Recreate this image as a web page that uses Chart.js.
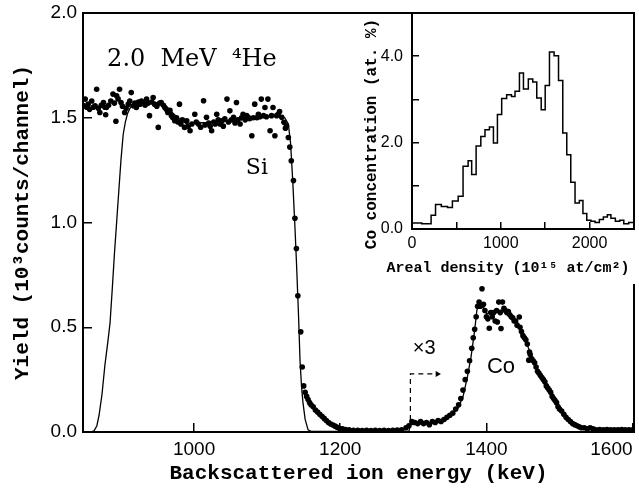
<!DOCTYPE html>
<html>
<head>
<meta charset="utf-8">
<script src="https://cdn.jsdelivr.net/npm/chart.js@4/dist/chart.umd.min.js"></script>
<style>
  html, body { margin: 0; padding: 0; background: #fff; }
  #caixa { position: relative; width: 639px; height: 496px; }
  #principal { position: absolute; left: 0; top: 0; }
  #inset { position: absolute; left: 355px; top: 0; }
</style>
</head>
<body>
<div id="caixa">
  <canvas id="principal" width="639" height="496"></canvas>
  <canvas id="inset" width="284" height="284"></canvas>
</div>
<script>
// Espectro RBS (pontos medidos) - energia em keV, rendimento em 10^3 contagens/canal
const dotEnergy = [
  848, 851, 853, 855, 857, 860, 862, 864.5, 866.7, 869, 871, 873, 876, 878, 879, 880, 883, 886, 889, 891,
  893, 894, 896, 898, 900, 902, 905, 907, 910, 912, 914, 917, 919, 921, 924, 926, 928, 930, 933, 935,
  937, 939, 942, 944, 946, 949, 951, 953, 955, 958, 960, 962, 964, 967, 969, 971, 973.5, 976, 978, 980,
  982, 984, 987, 990, 992, 994.5, 997, 1001, 1003, 1006, 1009, 1013, 1015, 1017, 1020, 1022, 1024, 1027, 1029, 1031,
  1033, 1035.5, 1038, 1040, 1042, 1045, 1047, 1049, 1051, 1054, 1056, 1058, 1060, 1063, 1065, 1067, 1070, 1072, 1074, 1076,
  1079, 1081, 1083, 1086, 1088, 1090, 1092, 1095, 1097, 1099, 1101, 1104, 1106, 1108, 1110.6, 1113, 1115, 1117, 1120, 1123,
  1125, 1126.5, 1129, 1131, 1133, 1136, 1138, 1140, 1142, 1146, 1148, 1150, 1152, 1154, 1156, 1158, 1160, 1163, 1166, 1169,
  1172, 1175, 1178, 1181, 1184, 1187, 1190, 1193, 1196, 1199, 1203, 1207, 1212, 1218, 1224, 1230, 1236, 1242, 1248, 1254,
  1260, 1266, 1272, 1278, 1284, 1290, 1294, 1298, 1302, 1306, 1310, 1314, 1318, 1322, 1326, 1330, 1334, 1338, 1342, 1346,
  1350, 1354, 1358, 1362, 1365, 1368, 1371, 1374, 1377, 1380, 1382, 1384, 1386, 1388, 1390, 1392, 1394, 1396, 1398, 1400,
  1402, 1404, 1406, 1408, 1410, 1412, 1414, 1415, 1417, 1419, 1420, 1422, 1424, 1426, 1428, 1430, 1432, 1434, 1436, 1438,
  1440, 1442, 1445, 1446, 1448, 1450, 1452, 1454, 1456, 1458, 1459, 1460, 1462, 1464, 1466, 1468, 1470, 1472, 1474, 1476,
  1478, 1480, 1482, 1484, 1486, 1488, 1490, 1492, 1494, 1496, 1498, 1500, 1503, 1506, 1509, 1512, 1515, 1518, 1521, 1524,
  1527, 1530, 1534, 1538, 1542, 1546, 1550, 1555, 1560, 1565, 1570, 1575, 1580, 1585, 1590, 1595, 1600
];
const dotYield = [
  1.56, 1.589, 1.55, 1.565, 1.54, 1.58, 1.55, 1.557, 1.636, 1.545, 1.525, 1.56, 1.573, 1.55, 1.514, 1.549, 1.56, 1.58, 1.613, 1.57,
  1.483, 1.605, 1.59, 1.636, 1.573, 1.555, 1.525, 1.545, 1.565, 1.58, 1.62, 1.557, 1.57, 1.549, 1.575, 1.565, 1.58, 1.573, 1.56, 1.589,
  1.57, 1.51, 1.575, 1.597, 1.565, 1.555, 1.454, 1.57, 1.573, 1.56, 1.549, 1.54, 1.525, 1.535, 1.51, 1.5, 1.486, 1.5, 1.48, 1.565,
  1.47, 1.49, 1.454, 1.486, 1.46, 1.438, 1.47, 1.517, 1.48, 1.47, 1.455, 1.581, 1.465, 1.502, 1.475, 1.46, 1.438, 1.48, 1.47, 1.517,
  1.49, 1.47, 1.485, 1.46, 1.495, 1.589, 1.48, 1.533, 1.49, 1.502, 1.475, 1.573, 1.49, 1.47, 1.5, 1.517, 1.49, 1.51, 1.502, 1.495,
  1.414, 1.5, 1.565, 1.5, 1.517, 1.505, 1.589, 1.51, 1.549, 1.505, 1.589, 1.438, 1.51, 1.549, 1.414, 1.51, 1.517, 1.53, 1.502, 1.478,
  1.45, 1.462, 1.406, 1.36, 1.295, 1.2, 1.02, 0.876, 0.65, 0.478, 0.31, 0.22, 0.19, 0.17, 0.155, 0.14, 0.13, 0.12, 0.105, 0.095,
  0.085, 0.075, 0.065, 0.055, 0.045, 0.038, 0.033, 0.028, 0.022, 0.018, 0.015, 0.012, 0.01, 0.008, 0.008, 0.007, 0.008, 0.007, 0.008, 0.007,
  0.008, 0.007, 0.008, 0.009, 0.01, 0.02, 0.03, 0.05, 0.045, 0.04, 0.05, 0.04, 0.045, 0.035, 0.05, 0.045, 0.055, 0.05, 0.06, 0.07,
  0.08, 0.09, 0.11, 0.13, 0.16, 0.2, 0.25, 0.29, 0.34, 0.4, 0.45, 0.49, 0.55, 0.6, 0.62, 0.6, 0.684, 0.61, 0.58, 0.55,
  0.54, 0.495, 0.57, 0.55, 0.57, 0.53, 0.58, 0.525, 0.62, 0.57, 0.494, 0.62, 0.59, 0.58, 0.57, 0.575, 0.56, 0.55, 0.545, 0.53,
  0.53, 0.51, 0.549, 0.5, 0.48, 0.46, 0.45, 0.44, 0.42, 0.343, 0.382, 0.37, 0.35, 0.34, 0.33, 0.31, 0.29, 0.28, 0.27, 0.26,
  0.25, 0.24, 0.22, 0.21, 0.2, 0.19, 0.17, 0.16, 0.15, 0.14, 0.12, 0.11, 0.1, 0.085, 0.07, 0.06, 0.05, 0.04, 0.035, 0.03,
  0.025, 0.02, 0.02, 0.015, 0.02, 0.015, 0.01, 0.012, 0.01, 0.012, 0.01, 0.011, 0.01, 0.012, 0.01, 0.011, 0.01
];

// Curva simulada
const fitEnergy = [
  848, 858, 863, 867, 870, 874, 878, 882, 885, 888, 891, 894, 897, 900, 903, 906, 909, 913, 918, 925,
  940, 958, 967, 978, 990, 1004, 1026, 1050, 1072, 1095, 1117, 1124, 1129, 1132, 1135, 1138, 1140, 1143, 1145, 1147,
  1149, 1152, 1156, 1160, 1294, 1296, 1320, 1336, 1349, 1361, 1368, 1374, 1379, 1384, 1387, 1390, 1395, 1400, 1409, 1420,
  1429, 1438, 1447, 1456, 1465, 1475, 1484, 1495, 1509, 1522, 1536, 1568, 1602
];
const fitYield = [
  0, 0, 0.005, 0.03, 0.08, 0.18, 0.32, 0.43, 0.52, 0.68, 0.85, 1.0, 1.15, 1.3, 1.42, 1.48, 1.52, 1.55, 1.565, 1.57,
  1.57, 1.565, 1.535, 1.5, 1.47, 1.475, 1.478, 1.485, 1.494, 1.502, 1.51, 1.5, 1.47, 1.38, 1.2, 0.98, 0.82, 0.55, 0.34, 0.22,
  0.14, 0.06, 0.01, 0.003, 0.003, 0.035, 0.04, 0.049, 0.073, 0.113, 0.168, 0.263, 0.359, 0.486, 0.581, 0.616, 0.605, 0.565, 0.573, 0.581,
  0.573, 0.54, 0.486, 0.414, 0.335, 0.271, 0.224, 0.152, 0.073, 0.033, 0.018, 0.012, 0.01
];

// Seta tracejada do "x3"
const arrowEnergy = [1296, 1296, 1333];
const arrowYield = [0.057, 0.277, 0.277];

const xTicks = [1000, 1200, 1400, 1600];
const yTicks = [0, 0.5, 1.0, 1.5, 2.0];

// Inset: perfil de concentracao de Co (histograma)
const binEdge = [
  0, 110, 215, 265, 330, 400, 455, 520, 575, 632, 672, 722, 775, 822, 872, 917, 962, 1010, 1066, 1120,
  1160, 1210, 1255, 1310, 1360, 1405, 1455, 1500, 1548, 1600, 1650, 1698, 1743, 1788, 1836, 1885, 1925, 1968, 2015, 2062,
  2110, 2155, 2200, 2240, 2290, 2340, 2385, 2440, 2500
];
const coConc = [
  0.14, 0.12, 0.32, 0.57, 0.52, 0.5, 0.65, 0.76, 1.45, 1.58, 1.26, 1.92, 2.14, 2.3, 2.36, 1.99, 2.65, 3.02, 3.11, 3.07,
  3.19, 3.61, 3.24, 3.47, 3.4, 3.03, 2.76, 3.32, 4.1, 4.01, 3.44, 2.22, 1.72, 1.08, 0.6, 0.66, 0.36, 0.2, 0.18, 0.15,
  0.22, 0.28, 0.33, 0.25, 0.18, 0.2, 0.12, 0.15
];
const insetXTicks = [0, 500, 1000, 1500, 2000];
const insetYTicks = [0, 1, 2, 3, 4];

const PRETO = '#000';
const MONO = 'Liberation Mono';

const rotulos = [
  { text: '2.0  MeV  \u2074He', x: 881, y: 1.776, font: '24px "DejaVu Serif"', align: 'left' },
  { text: 'Si', x: 1086, y: 1.26, font: '22px "DejaVu Serif"', align: 'center' },
  { text: 'Co', x: 1420, y: 0.31, font: '22px "Liberation Sans"', align: 'center' },
  { text: '\u00d73', x: 1315, y: 0.40, font: '20px "Liberation Sans"', align: 'center' }
];

const moldura = {
  id: 'moldura',
  afterDraw(chart) {
    const { ctx, chartArea: a } = chart;
    ctx.save();
    ctx.strokeStyle = PRETO;
    ctx.lineWidth = 2;
    ctx.strokeRect(a.left, a.top, a.right - a.left, a.bottom - a.top);
    ctx.restore();
  }
};

const textos = {
  id: 'textos',
  afterDraw(chart) {
    const { ctx, scales } = chart;
    ctx.save();
    ctx.fillStyle = PRETO;
    ctx.textBaseline = 'middle';
    rotulos.forEach(r => {
      ctx.font = r.font;
      ctx.textAlign = r.align;
      ctx.fillText(r.text, scales.x.getPixelForValue(r.x), scales.y.getPixelForValue(r.y));
    });
    ctx.restore();
  }
};

const fundoBranco = {
  id: 'fundoBranco',
  beforeDraw(chart) {
    const { ctx, chartArea: a, width, height } = chart;
    ctx.save();
    ctx.fillStyle = '#fff';
    ctx.fillRect(0, 16, width, height - 16);
    ctx.fillRect(a.left, 0, width - a.left, 16);
    ctx.restore();
  }
};

// titulos do inset: no original nao ficam centrados no quadro
const titulosInset = {
  id: 'titulosInset',
  afterDraw(chart) {
    const { ctx, chartArea: a } = chart;
    ctx.save();
    ctx.fillStyle = PRETO;
    ctx.textAlign = 'center';
    ctx.textBaseline = 'middle';
    ctx.font = `bold 15px "${MONO}"`;
    ctx.fillText('Areal density (10\u00b9\u2075 at/cm\u00b2)', a.left + 96, a.bottom + 39);
    ctx.translate(a.left - 40, (a.top + a.bottom) / 2 + 13);
    ctx.rotate(-Math.PI / 2);
    ctx.font = `bold 16px "${MONO}"`;
    ctx.fillText('Co concentration (at. %)', 0, 0);
    ctx.restore();
  }
};

// zera o espaco extra que o Chart.js reserva para os rotulos das pontas
function semFolga(s) {
  s.paddingLeft = 0; s.paddingRight = 0; s.paddingTop = 0; s.paddingBottom = 0;
}

function eixo(extra) {
  return Object.assign({
    type: 'linear',
    border: { display: false },
    grid: { drawOnChartArea: false, color: PRETO, lineWidth: 1.5 },
    ticks: { color: PRETO, font: { family: 'Liberation Sans', size: 19 } }
  }, extra);
}

const pontos = dotEnergy.map((x, i) => ({ x, y: dotYield[i] }));
const curva = fitEnergy.map((x, i) => ({ x, y: fitYield[i] }));
const seta = arrowEnergy.map((x, i) => ({ x, y: arrowYield[i] }));

new Chart(document.getElementById('principal'), {
  type: 'scatter',
  data: {
    datasets: [
      { type: 'line', data: curva, borderColor: PRETO, borderWidth: 1.3, pointRadius: 0, tension: 0, fill: false },
      { data: pontos, backgroundColor: PRETO, borderWidth: 0, pointRadius: 2.8 },
      { type: 'line', data: seta, borderColor: PRETO, borderWidth: 1.2, borderDash: [5, 4],
        pointRadius: [0, 0, 3.5], pointStyle: 'triangle', rotation: 90, pointBackgroundColor: PRETO, pointBorderWidth: 0 }
    ]
  },
  options: {
    responsive: false, animation: false,
    layout: { padding: { top: 13, right: 5, left: 0, bottom: 0 } },
    plugins: { legend: { display: false }, tooltip: { enabled: false } },
    scales: {
      x: eixo({
        min: 848, max: 1602,
        afterBuildTicks: s => { s.ticks = [s.min, ...xTicks].map(v => ({ value: v })); },
        afterFit: s => { s.height = 64; semFolga(s); },
        grid: { drawOnChartArea: false, color: PRETO, lineWidth: 1.5, tickLength: -9 },
        ticks: { color: PRETO, font: { family: 'Liberation Sans', size: 19 }, padding: 15, align: 'inner', maxRotation: 0,
          callback: v => xTicks.includes(v) ? String(v) : '' },
        title: { display: true, text: 'Backscattered ion energy (keV)', color: PRETO,
          font: { family: MONO, size: 21, weight: 'bold' }, padding: { top: 0, bottom: 10 } }
      }),
      y: eixo({
        min: 0, max: 2,
        afterBuildTicks: s => { s.ticks = yTicks.map(v => ({ value: v })); },
        afterFit: s => { s.width = 83; semFolga(s); },
        grid: { drawOnChartArea: false, color: PRETO, lineWidth: 1.5, tickLength: -9 },
        ticks: { color: PRETO, font: { family: 'Liberation Sans', size: 19 }, padding: 15, callback: v => v.toFixed(1) },
        title: { display: true, text: 'Yield (10\u00b3counts/channel)', color: PRETO,
          font: { family: MONO, size: 21, weight: 'bold' }, padding: { top: 10, bottom: 0 } }
      })
    }
  },
  plugins: [moldura, textos]
});

const histo = binEdge.map((x, i) => ({ x, y: coConc[Math.min(i, coConc.length - 1)] }));

new Chart(document.getElementById('inset'), {
  type: 'line',
  data: {
    datasets: [
      { data: histo, stepped: true, borderColor: PRETO, borderWidth: 1.5, pointRadius: 0, fill: false }
    ]
  },
  options: {
    responsive: false, animation: false,
    layout: { padding: { top: 13, right: 5, left: 0, bottom: 0 } },
    plugins: { legend: { display: false }, tooltip: { enabled: false } },
    scales: {
      x: eixo({
        min: 0, max: 2500,
        afterBuildTicks: s => { s.ticks = insetXTicks.map(v => ({ value: v })); },
        afterFit: s => { s.height = 55; semFolga(s); },
        grid: { drawOnChartArea: false, color: PRETO, lineWidth: 1.5, tickLength: -7 },
        ticks: { color: PRETO, font: { family: 'Liberation Sans', size: 16 }, padding: 12, maxRotation: 0,
          callback: v => v % 1000 === 0 ? String(v) : '' }
      }),
      y: eixo({
        min: 0, max: 5,
        afterBuildTicks: s => { s.ticks = insetYTicks.map(v => ({ value: v })); },
        afterFit: s => { s.width = 57; semFolga(s); },
        grid: { drawOnChartArea: false, color: PRETO, lineWidth: 1.5, tickLength: -7 },
        ticks: { color: PRETO, font: { family: 'Liberation Sans', size: 16 }, padding: 16,
          callback: v => v % 2 === 0 ? v.toFixed(1) : '' }
      })
    }
  },
  plugins: [fundoBranco, moldura, titulosInset]
});
</script>
</body>
</html>
